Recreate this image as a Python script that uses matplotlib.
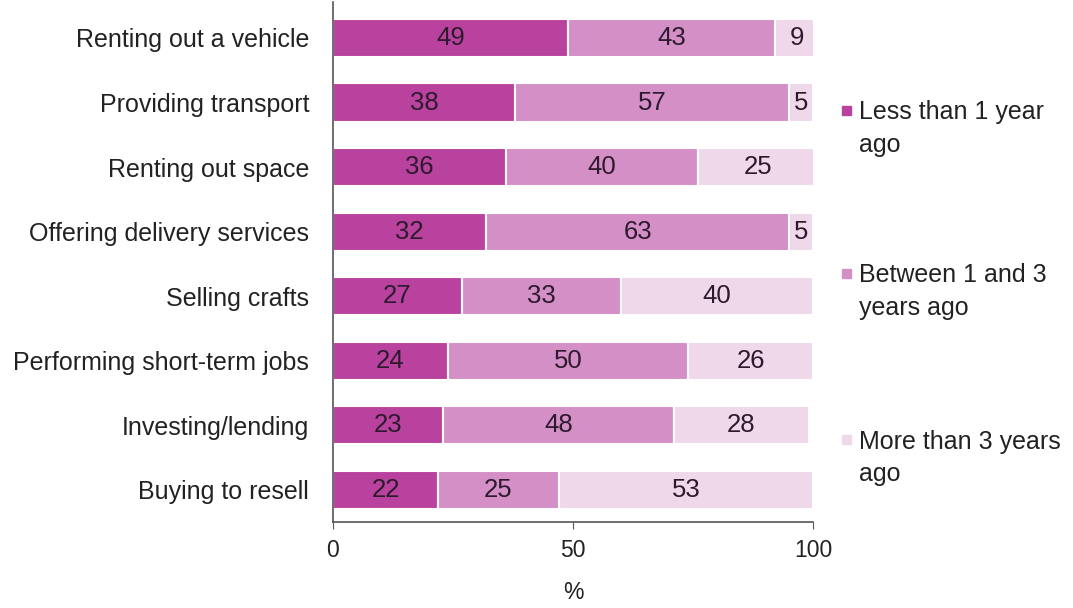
import numpy as np
import matplotlib.pyplot as plt
from matplotlib.patches import Rectangle

plt.rcParams['font.family'] = ['Liberation Sans', 'DejaVu Sans']

activities = ["Renting out a vehicle", "Providing transport", "Renting out space",
              "Offering delivery services", "Selling crafts",
              "Performing short-term jobs", "Investing/lending", "Buying to resell"]
less_1yr = [49, 38, 36, 32, 27, 24, 23, 22]
between_1_3 = [43, 57, 40, 63, 33, 50, 48, 25]
more_3yr = [9, 5, 25, 5, 40, 26, 28, 53]

series = [("Less than 1 year\nago", less_1yr, "#b8429e"),
          ("Between 1 and 3\nyears ago", between_1_3, "#d48fc7"),
          ("More than 3 years\nago", more_3yr, "#f0d8eb")]

txt = "#222222"

fig = plt.figure(figsize=(10.73, 6.08), dpi=100)
ax = fig.add_axes([0.310, 0.141, 0.448, 0.855])

y = np.arange(len(activities))
left = np.zeros(len(activities))
for name, vals, col in series:
    vals = np.array(vals, dtype=float)
    bars = ax.barh(y, vals, left=left, height=0.59, color=col,
                   edgecolor="white", linewidth=1.5)
    for b, v in zip(bars, vals):
        ax.text(b.get_x() + b.get_width() / 2, b.get_y() + b.get_height() / 2,
                f"{v:.0f}", ha="center", va="center", fontsize=18.5, color="#2e1a2e")
    left += vals

ax.set_ylim(7.5, -0.55)
ax.set_xlim(0, 100)
ax.set_yticks(y)
ax.set_yticklabels(activities, fontsize=18, color=txt)
ax.set_xticks([0, 50, 100])
ax.tick_params(axis="x", labelsize=16.5, length=5, direction="out", pad=7,
               colors="#555555", labelcolor=txt)
ax.tick_params(axis="y", length=0, pad=17)
ax.set_xlabel("%", fontsize=16.5, color=txt, labelpad=14)
for s in ["top", "right"]:
    ax.spines[s].set_visible(False)
for s in ["left", "bottom"]:
    ax.spines[s].set_color("#555555")
    ax.spines[s].set_linewidth(1.2)

# legend drawn by hand: square at the first line, wrapped label underneath
legend_y = [0.819, 0.551, 0.277]
for (name, vals, col), ly in zip(series, legend_y):
    fig.patches.append(Rectangle((0.785, ly - 0.008), 0.0085, 0.015,
                                 transform=fig.transFigure, color=col))
    fig.text(0.801, ly + 0.016, name, fontsize=18, color=txt,
             va="top", ha="left", linespacing=1.45)

fig.savefig("out.png", dpi=100)
